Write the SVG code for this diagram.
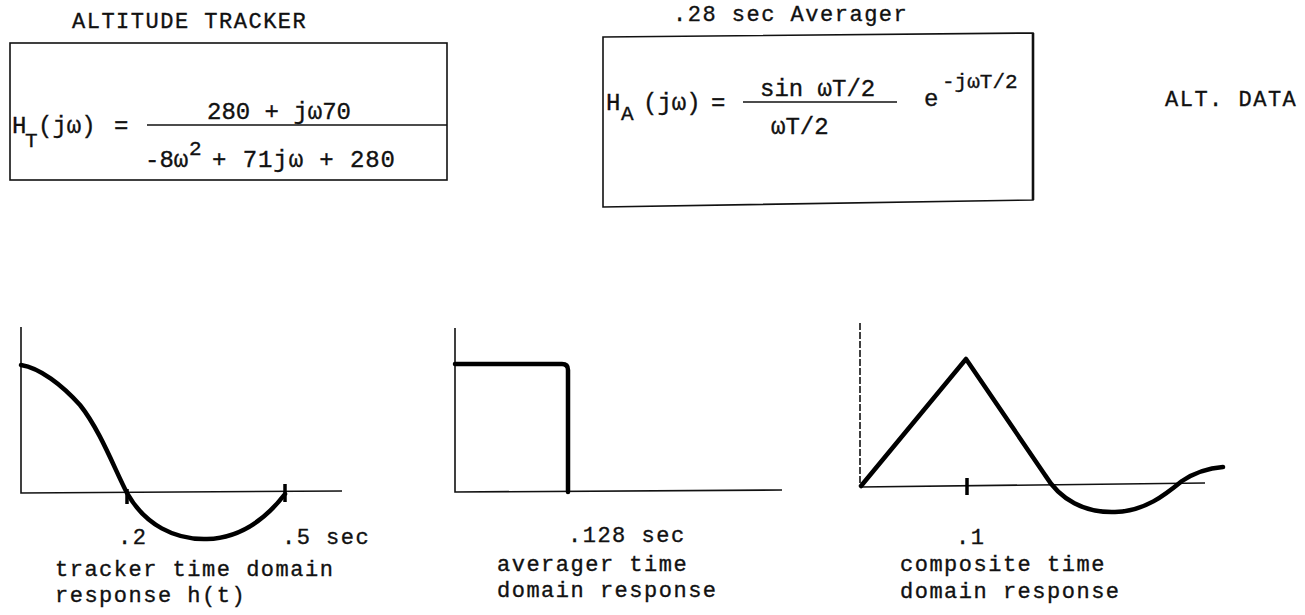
<svg xmlns="http://www.w3.org/2000/svg" width="1305" height="615" viewBox="0 0 1305 615">
<style>
text{font-family:"Liberation Mono","Courier New",monospace;fill:#111;stroke:#111;stroke-width:0.35;}
.lbl{font-size:22px;letter-spacing:1.5px;}
.eq{font-size:24px;}
.sub{font-size:21px;}
.box{fill:none;stroke:#111;stroke-width:1.6;}
.ax{fill:none;stroke:#111;stroke-width:1.6;}
.crv{fill:none;stroke:#000;stroke-width:4.5;stroke-linecap:round;stroke-linejoin:round;}
.tick{stroke:#000;stroke-width:3.5;}
</style>
<rect width="1305" height="615" fill="#fff"/>

<g id="tracker-box">
<text class="lbl" x="72" y="28">ALTITUDE TRACKER</text>
<rect class="box" x="10" y="43" width="437" height="137"/>
<text class="eq" x="12" y="133">H</text>
<text class="sub" x="25" y="147">T</text>
<text class="eq" x="38" y="133">(jω)</text>
<text class="eq" x="114" y="133">=</text>
<text class="eq" x="207" y="119">280 + jω70</text>
<line class="ax" x1="147" y1="125" x2="447" y2="125"/>
<text class="eq" x="145" y="167">-8ω</text>
<text class="sub" x="189" y="155">2</text>
<text class="eq" x="212" y="167" textLength="183" lengthAdjust="spacing">+ 71jω + 280</text>
</g>

<g id="averager-box">
<text class="lbl" x="673" y="21">.28 sec Averager</text>
<polygon class="box" points="603,37 1033,33 1033,200 603,207"/>
<line stroke="#111" stroke-width="2.6" x1="1033" y1="33" x2="1033" y2="200"/>
<text class="eq" x="606" y="110">H</text>
<text class="sub" x="621" y="120">A</text>
<text class="eq" x="643" y="110">(jω)</text>
<text class="eq" x="711" y="110">=</text>
<text class="eq" x="760" y="96">sin ωT/2</text>
<line class="ax" x1="743" y1="102" x2="897" y2="102"/>
<text class="eq" x="771" y="134">ωT/2</text>
<text class="eq" x="924" y="106">e</text>
<text class="sub" x="942" y="88">-jωT/2</text>
</g>

<g id="alt-data">
<text class="lbl" x="1165" y="106">ALT. DATA</text>
</g>

<g id="tracker-plot">
<path class="ax" d="M21,327 L21,493 L342,491"/>
<path class="crv" d="M21,365 C40,368 62,385 80,405 C100,430 115,470 127,493 C145,525 175,540 207,539 C240,538 265,520 285,494"/>
<line class="tick" x1="127" y1="489" x2="127" y2="504"/>
<line class="tick" x1="285" y1="484" x2="285" y2="502"/>
<text class="lbl" x="118" y="544">.2</text>
<text class="lbl" x="282" y="544">.5 sec</text>
<text class="lbl" x="55" y="576">tracker time domain</text>
<text class="lbl" x="55" y="602">response h(t)</text>
</g>

<g id="averager-plot">
<path class="ax" d="M455,328 L455,492 L782,490"/>
<path class="crv" d="M455,364 L562,364 Q568,364 568,370 L568,492"/>
<text class="lbl" x="568" y="542">.128 sec</text>
<text class="lbl" x="497" y="571">averager time</text>
<text class="lbl" x="497" y="597">domain response</text>
</g>

<g id="composite-plot">
<path class="ax" d="M860,323 L860,487" stroke-dasharray="7,2"/>
<path class="ax" d="M860,487 L1205,483"/>
<path class="crv" d="M861,486 L966,359 L1045,475 C1060,500 1085,513 1115,512 C1145,511 1165,495 1182,481 C1197,471 1210,468 1223,467"/>
<line class="tick" x1="967" y1="478" x2="967" y2="495"/>
<text class="lbl" x="956" y="544">.1</text>
<text class="lbl" x="900" y="571">composite time</text>
<text class="lbl" x="900" y="598">domain response</text>
</g>
</svg>
